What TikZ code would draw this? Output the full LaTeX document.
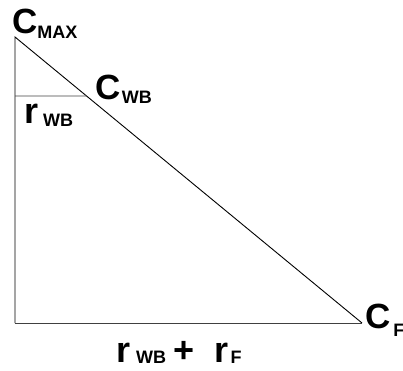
\documentclass[tikz,border=0pt]{standalone}
\usepackage{fontspec}
\setmainfont{Liberation Sans}
\newcommand\mysub[2]{\raisebox{-#1}{\fontsize{18}{18}\selectfont #2}}
\begin{document}
\begin{tikzpicture}[x=1pt,y=-1pt,
  edge/.style={line width=0.9pt, black},
  thin edge/.style={line width=0.9pt, black!75},
  lbl/.style={inner sep=0pt, anchor=base west, font=\bfseries\fontsize{35}{35}\selectfont},
  rlbl/.style={inner sep=0pt, anchor=base west, font=\bfseries\fontsize{36}{36}\selectfont}]
\useasboundingbox (0,0) rectangle (403,370);
\coordinate (top) at (15,37);
\coordinate (bl) at (15,323);
\coordinate (br) at (362,323);
\coordinate (mid) at (15,96);
\path (top) -- (br) coordinate[pos=0.2063] (wb);
\draw[edge] (bl) -- (top) -- (br);
\draw[thin edge] (bl) -- (br);
\draw[thin edge] (mid) -- (wb);
\node[lbl] (cmax) at (12,33) {C\mysub{5pt}{MAX}};
\node[lbl] (cwb) at (95.5,99) {C\kern1pt\mysub{4pt}{WB}};
\node[lbl] (cf) at (365,328) {C\kern3pt\mysub{8pt}{F}};
\node[rlbl] (rwb) at (24,123) {r\kern5pt\mysub{3pt}{WB}};
\node[rlbl] (sum) at (116,362) {r\kern6pt\mysub{1pt}{WB}\kern7pt+\kern20pt r\kern2.5pt\mysub{1pt}{F}};
\end{tikzpicture}
\end{document}
